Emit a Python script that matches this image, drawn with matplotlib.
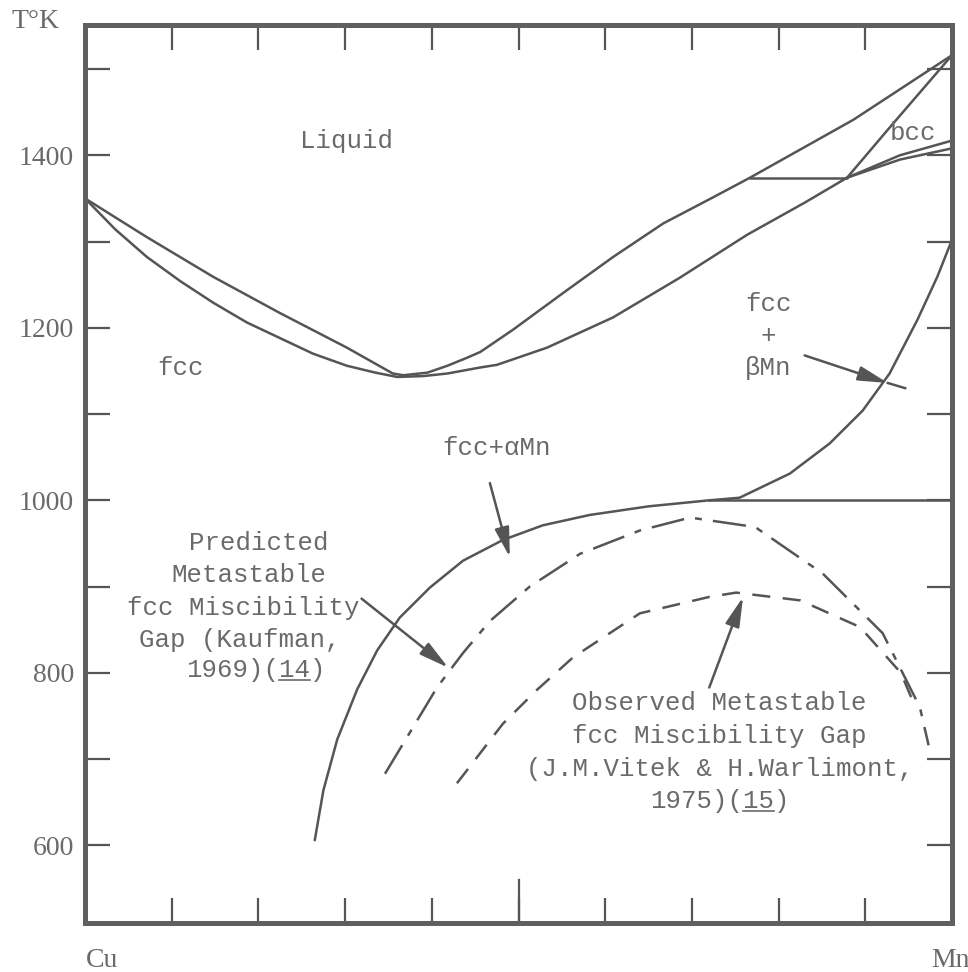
import matplotlib
matplotlib.use('Agg')
import matplotlib.pyplot as plt
from matplotlib.lines import Line2D
from matplotlib.transforms import IdentityTransform

plt.rcParams['lines.scale_dashes'] = False

# ---------------- data (x = mole fraction Mn, T in K) ----------------
liquidus_x = [0.0, 0.0715, 0.148, 0.225, 0.302, 0.355, 0.367, 0.395, 0.418, 0.44, 0.456, 0.475, 0.494,
              0.551, 0.609, 0.667, 0.724, 0.767, 0.886, 1.0]
liquidus_T = [1350, 1305, 1259, 1217, 1177, 1147, 1145, 1148, 1156, 1165, 1172, 1185, 1198,
              1240, 1282, 1321, 1351, 1374, 1441, 1516]

solidus_x = [0.0, 0.035, 0.0715, 0.110, 0.148, 0.187, 0.225, 0.263, 0.302, 0.335, 0.360, 0.390, 0.418,
             0.456, 0.475, 0.533, 0.609, 0.686, 0.764, 0.830, 0.879]
solidus_T = [1350, 1314, 1282, 1254, 1229, 1206, 1188, 1170, 1156, 1148, 1143, 1144, 1147,
             1154, 1157, 1177, 1212, 1258, 1308, 1345, 1374]

bcc_solidus_x = [1.0, 0.928, 0.879]
bcc_solidus_T = [1516, 1432, 1374]

peritectic_x = [0.767, 0.879]
peritectic_T = [1374, 1374]

band_upper_x = [0.879, 0.94, 1.0]
band_upper_T = [1374, 1400, 1417]
band_lower_x = [0.879, 0.94, 1.0]
band_lower_T = [1374, 1395, 1408]

alpha_solvus_x = [0.265, 0.275, 0.291, 0.314, 0.337, 0.363, 0.398, 0.436, 0.482, 0.528, 0.582, 0.65, 0.72]
alpha_solvus_T = [606, 664, 723, 781, 826, 864, 899, 930, 954, 971, 983, 993, 1000]

beta_solvus_x = [0.72, 0.755, 0.813, 0.859, 0.897, 0.928, 0.960, 0.983, 1.0]
beta_solvus_T = [1000, 1003, 1031, 1066, 1104, 1147, 1209, 1259, 1302]

horiz1000_x = [0.720, 1.0]
horiz1000_T = [1000, 1000]

kaufman_x = [0.346, 0.406, 0.436, 0.467, 0.513, 0.571, 0.640, 0.698, 0.773, 0.851, 0.920, 0.963, 0.973]
kaufman_T = [683, 783, 823, 860, 900, 938, 965, 980, 969, 915, 846, 760, 716]

vitek_x = [0.429, 0.482, 0.521, 0.563, 0.640, 0.720, 0.751, 0.825, 0.894, 0.941, 0.957]
vitek_T = [672, 741, 780, 818, 869, 888, 893, 884, 853, 800, 762]

y_ticks = [600, 700, 800, 900, 1000, 1100, 1200, 1300, 1400, 1500]
y_ticklabels = ['600', '', '800', '', '1000', '', '1200', '', '1400', '']
x_ticks = [0.1, 0.2, 0.3, 0.4, 0.5, 0.6, 0.7, 0.8, 0.9]

# ---------------- style ----------------
LC = '#555555'
TC = '#6a6a6a'
LW = 1.8
MONO = 'Liberation Mono'
SERIF = 'Liberation Serif'
FS = 18.5

fig = plt.figure(figsize=(9.68, 9.72), dpi=100)
ax = fig.add_axes([85 / 968, 1 - 923 / 972, 867 / 968, 898 / 972])
ax.set_xlim(0, 1)
ax.set_ylim(510, 1551)

for s in ax.spines.values():
    s.set_linewidth(3.6)
    s.set_color('#5f5f5f')

ax.set_xticks(x_ticks)
ax.set_xticklabels([])
ax.set_yticks(y_ticks)
ax.set_yticklabels(y_ticklabels, fontfamily=SERIF, fontsize=20, color=TC)
ax.tick_params(direction='in', length=18, width=1.6, color=LC, top=True, right=True, pad=8)
ax.axvline(0.5, ymin=0, ymax=43 / 898, color=LC, lw=1.6)

kw = dict(color=LC, lw=LW, solid_capstyle='round', solid_joinstyle='round')
ax.plot(liquidus_x, liquidus_T, **kw)
ax.plot(solidus_x, solidus_T, **kw)
ax.plot(bcc_solidus_x, bcc_solidus_T, **kw)
ax.plot(peritectic_x, peritectic_T, **kw)
ax.plot(band_upper_x, band_upper_T, **kw)
ax.plot(band_lower_x, band_lower_T, **kw)
ax.plot(alpha_solvus_x, alpha_solvus_T, **kw)
ax.plot(beta_solvus_x, beta_solvus_T, **kw)
ax.plot(horiz1000_x, horiz1000_T, **kw)

lk, = ax.plot(kaufman_x, kaufman_T, color=LC, lw=LW)
lk.set_dashes((24, 8, 5, 8))
lv, = ax.plot(vitek_x, vitek_T, color=LC, lw=LW)
lv.set_dashes((13, 9))

def txt(x, y, s, **k):
    return ax.text(x, y, s, ha='center', va='center', fontsize=FS,
                   family=MONO, color=TC, **k)

txt(0.302, 1417, 'Liquid')
txt(0.110, 1153, 'fcc')
txt(0.955, 1426, 'bcc')
txt(0.788, 1228, 'fcc')
txt(0.788, 1190, '+')
txt(0.788, 1153, 'βMn')
txt(0.475, 1061, 'fcc+αMn')

pred = [('Predicted', 0.200, 951), ('Metastable', 0.189, 913),
        ('fcc Miscibility', 0.182, 875), ('Gap (Kaufman,', 0.178, 838),
        ('1969)(14)', 0.197, 803)]
obs = [('Observed Metastable', 0.732, 765), ('fcc Miscibility Gap', 0.732, 727),
       ('(J.M.Vitek & H.Warlimont,', 0.732, 689), ('1975)(15)', 0.732, 652)]
under = []
for s, x, y in pred + obs:
    t = txt(x, y, s)
    if s.startswith('19'):
        under.append(t)

fig.text(36 / 968, 1 - 22 / 972, 'T°K', ha='center', va='center',
         fontsize=20, family=SERIF, color=TC)
fig.text(102 / 968, 1 - 960 / 972, 'Cu', ha='center', va='center',
         fontsize=20, family=SERIF, color=TC)
fig.text(950 / 968, 1 - 960 / 972, 'Mn', ha='center', va='center',
         fontsize=20, family=SERIF, color=TC)

ap = dict(arrowstyle='-|>,head_length=0.9,head_width=0.22', mutation_scale=20,
          lw=LW, color=LC, shrinkA=0, shrinkB=0)
ax.annotate('', xy=(0.490, 934), xytext=(0.467, 1020), arrowprops=ap)
ax.annotate('', xy=(0.419, 806), xytext=(0.319, 886), arrowprops=ap)
ax.annotate('', xy=(0.759, 888), xytext=(0.720, 783), arrowprops=ap)
ax.annotate('', xy=(0.926, 1136), xytext=(0.830, 1168), arrowprops=ap)
ax.plot([0.926, 0.946], [1136, 1130], color=LC, lw=LW)

fig.canvas.draw()
r = fig.canvas.get_renderer()
for t in under:
    bb = t.get_window_extent(r)
    cw = bb.width / 9
    x0 = bb.x0 + 6 * cw
    x1 = bb.x0 + 8 * cw
    y = bb.y0 + 2
    fig.add_artist(Line2D([x0, x1], [y, y], transform=IdentityTransform(),
                          color=TC, lw=1.2))

fig.savefig('out.png', dpi=100)
